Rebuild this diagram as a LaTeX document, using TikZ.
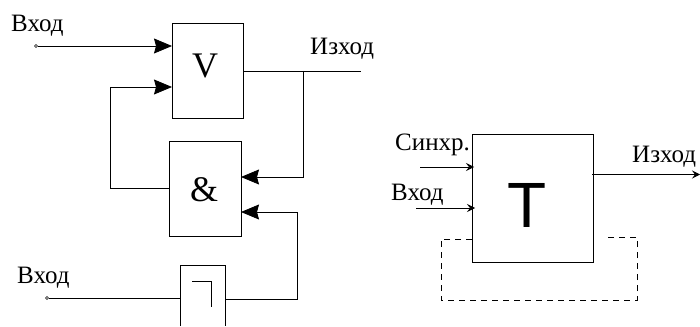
\documentclass[tikz,border=0pt]{standalone}
\usepackage{fontspec}
\setmainfont{Liberation Serif}
\setsansfont{Liberation Sans}
\usetikzlibrary{arrows.meta}
\tikzset{
  block/.style={draw, line width=0.8pt, minimum width=#1, inner sep=0pt},
  label/.style={anchor=base west, inner sep=0pt, font=\fontsize{25}{27}\selectfont},
  sign/.style={inner sep=0pt, font=\fontsize{36}{38}\selectfont},
  bigarrow/.style={-{Stealth[length=18pt,width=15pt,inset=2pt]}, line width=0.8pt},
  smallarrow/.style={-{Stealth[length=8pt,width=8pt,inset=3pt]}, line width=0.8pt},
  wire/.style={line width=0.8pt},
  pin/.style={circle, draw, line width=0.6pt, minimum size=3pt, inner sep=0pt},
  feedback/.style={line width=0.6pt, dash pattern=on 6pt off 5pt}
}
\begin{document}
\begin{tikzpicture}[x=1pt,y=-1pt]
\useasboundingbox (0,0) rectangle (700,326);
% left circuit
\node[block=71pt, minimum height=95pt] (orgate) at (207.5,70.5) {};
\node[sign, anchor=base] (orsign) at (205,78) {V};
\node[block=72pt, minimum height=95pt] (andgate) at (205,188.5) {};
\node[sign, anchor=base] (andsign) at (204,201) {\&};
\node[minimum width=44pt, minimum height=60pt, inner sep=0pt] (notgate) at (203,296) {};
\draw[wire] (notgate.south west) -- (notgate.north west) -- (notgate.north east) -- (notgate.south east);
\draw[wire] (192,281) -- (211,281) -- (211,307);
\node[pin] (inA) at (36,46) {};
\node[pin] (inB) at (47,298) {};
\coordinate (orinA) at (172,46);
\coordinate (orinB) at (172,87);
\coordinate (orout) at (243,71);
\coordinate (outL) at (361,71);
\coordinate (tap) at (303,71);
\coordinate (andinA) at (241,177);
\coordinate (andinB) at (241,212);
\coordinate (notin) at (181,298);
\coordinate (notout) at (225,299);
\draw[bigarrow] (inA) -- (orinA);
\draw[bigarrow] (andgate.west) -- (110,188.5) |- (orinB);
\draw[wire] (orout) -- (outL);
\draw[bigarrow] (tap) |- (andinA);
\draw[wire] (inB) -- (notin);
\draw[bigarrow] (notout) -- (297,299) |- (andinB);
\node[label] (lblA) at (11,32) {Вход};
\node[label] (lblB) at (17,283) {Вход};
\node[label] (lblC) at (310,55) {Изход};
% right circuit
\node[block=121pt, minimum height=128pt] (trig) at (532.5,198) {};
\node[inner sep=0pt, anchor=base, font=\sffamily\fontsize{64}{66}\selectfont] (trigsign) at (527,227) {T};
\coordinate (syncS) at (420,167);
\coordinate (syncE) at (474,167);
\coordinate (dataS) at (416,208);
\coordinate (dataE) at (475,208);
\coordinate (trigout) at (592,174.5);
\coordinate (outR) at (700,174.5);
\draw[smallarrow] (syncS) -- (syncE);
\draw[smallarrow] (dataS) -- (dataE);
\draw[smallarrow] (trigout) -- (outR);
\draw[feedback] (472,239) -- (441,239) -- (441,300) -- (637,300) -- (637,237) -- (606,237);
\node[label] (lblD) at (395,150) {Синхр.};
\node[label] (lblE) at (391,200) {Вход};
\node[label] (lblF) at (632,162) {Изход};
\end{tikzpicture}
\end{document}
